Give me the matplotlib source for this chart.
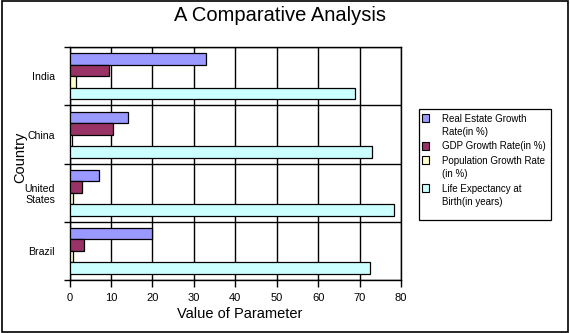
import matplotlib
matplotlib.use("Agg")
import matplotlib.pyplot as plt
import numpy as np
from matplotlib.patches import Rectangle

plt.rcParams['font.family'] = ['Liberation Sans', 'DejaVu Sans']

# ---- data ----
countries = ["India", "China", "United\nStates", "Brazil"]
series_names = ["Real Estate Growth\nRate(in %)", "GDP Growth Rate(in %)",
                "Population Growth Rate\n(in %)", "Life Expectancy at\nBirth(in years)"]
real_estate = [33.0, 14.0, 7.0, 20.0]
gdp_growth = [9.5, 10.6, 3.1, 3.6]
population_growth = [1.6, 0.5, 0.9, 0.9]
life_expectancy = [68.8, 73.0, 78.2, 72.5]
x_ticks = [0, 10, 20, 30, 40, 50, 60, 70, 80]
colors = ["#9999FF", "#993366", "#FFFFCC", "#CCFFFF"]
title = "A Comparative Analysis"
x_label = "Value of Parameter"
y_label = "Country"

series = [real_estate, gdp_growth, population_growth, life_expectancy]

W, H = 570, 333
fig = plt.figure(figsize=(W / 100, H / 100), dpi=100)
fig.patch.set_facecolor("white")

# plot area in pixels
L, R, T, B = 69.5, 401.0, 47.3, 280.0
ax = fig.add_axes([L / W, 1 - B / H, (R - L) / W, (B - T) / H])

h = 0.1976
y = np.arange(len(countries))
for k, (vals, c) in enumerate(zip(series, colors)):
    ax.barh(y + (k - 1.5) * h, vals, height=h, color=c,
            edgecolor="black", linewidth=0.9, zorder=3)

ax.set_xlim(x_ticks[0], x_ticks[-1])
ax.set_ylim(len(countries) - 0.5, -0.5)
ax.set_xticks(x_ticks)
ax.set_xticklabels([str(t) for t in x_ticks])

ax.set_yticks(np.arange(-0.5, len(countries), 1.0))
ax.set_yticklabels([])
ax.set_yticks(y, minor=True)
ax.set_yticklabels(countries, minor=True)

ax.set_axisbelow(True)
ax.xaxis.grid(True, color="black", linewidth=1.0)
ax.yaxis.grid(True, which="major", color="black", linewidth=1.0)

ax.tick_params(axis="y", which="major", direction="out", length=4.3, width=1.0)
ax.tick_params(axis="y", which="minor", length=0, pad=10.4, labelsize=7.6)
ax.tick_params(axis="x", direction="out", length=5, width=1.0, pad=4.3, labelsize=8)
for s in ax.spines.values():
    s.set_linewidth(1.0)
    s.set_color("black")

ax.set_xlabel(x_label, fontsize=10.5)
ax.xaxis.set_label_coords((240 - L) / (R - L), (B - 307) / (B - T))
ax.set_ylabel(y_label, fontsize=10.5, va="center")
ax.yaxis.set_label_coords((20.5 - L) / (R - L), 1 - (157 - T) / (B - T))

fig.text(280 / W, 1 - 20.7 / H, title, ha="center", va="baseline", fontsize=14.5)

# ---- legend (drawn manually to match wrapped labels) ----
lx0, ly0, lx1, ly1 = 419.3, 109.0, 550.7, 220.0
fig.patches.append(Rectangle((lx0 / W, 1 - ly1 / H), (lx1 - lx0) / W, (ly1 - ly0) / H,
                             transform=fig.transFigure, facecolor="white",
                             edgecolor="black", linewidth=0.9, zorder=5))
base = 121.7
step = 13.6
gap = 0.6
for name, c in zip(series_names, colors):
    lines = name.split("\n")
    first_center = base - 3.7
    fig.patches.append(Rectangle((421.7 / W, 1 - (first_center + 4) / H), 7 / W, 8 / H,
                                 transform=fig.transFigure, facecolor=c,
                                 edgecolor="black", linewidth=0.8, zorder=6))
    for i, ln in enumerate(lines):
        fig.text(441.5 / W, 1 - (base + i * step) / H, ln, ha="left", va="baseline",
                 fontsize=7.05, zorder=7)
    base += len(lines) * step + gap

# outer border
fig.patches.append(Rectangle((2 / W, 1 - 331.7 / H), 566.3 / W, 330.7 / H,
                             transform=fig.transFigure, fill=False,
                             edgecolor="black", linewidth=1.2, zorder=10))

fig.savefig("out.png", dpi=100)
